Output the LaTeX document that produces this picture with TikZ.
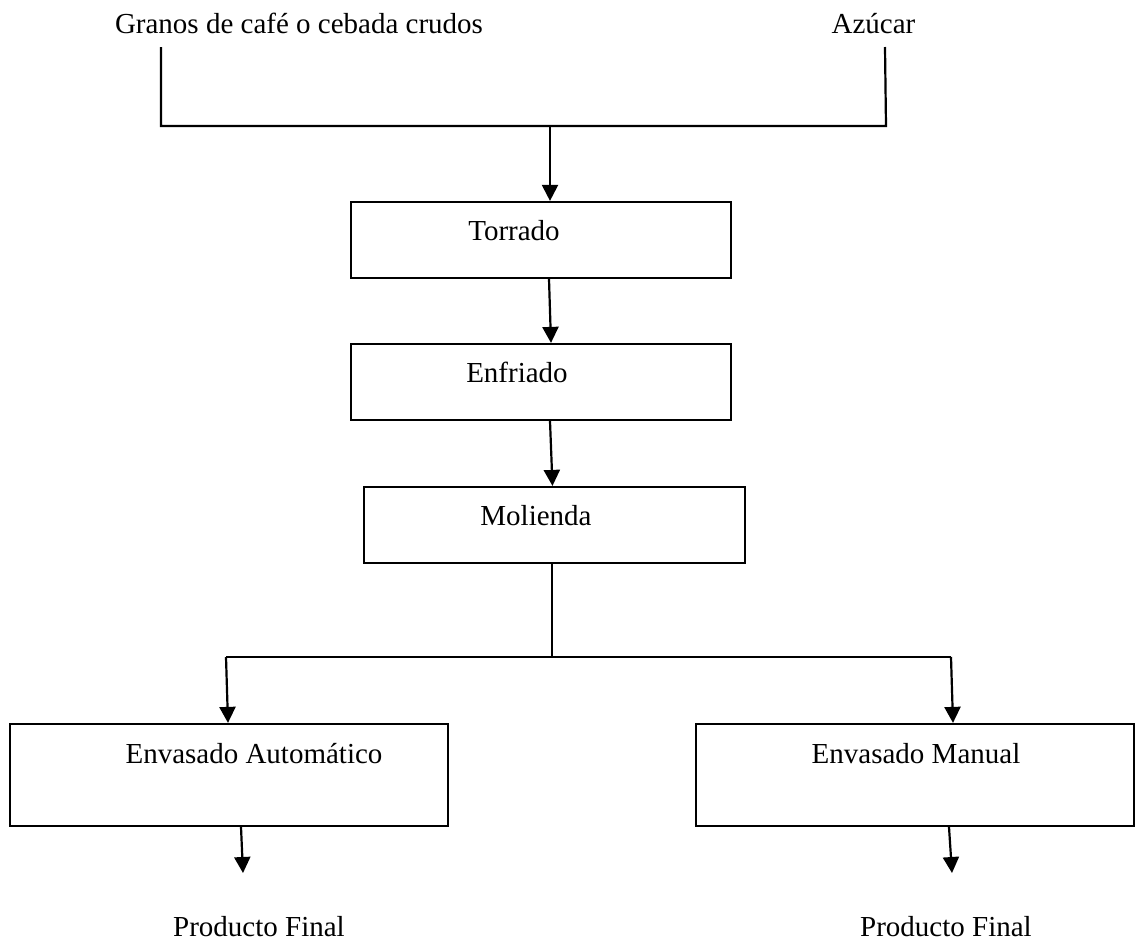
\documentclass[tikz,border=0pt]{standalone}
\usepackage{fontspec}
\setmainfont{Liberation Serif}
\usetikzlibrary{arrows.meta}
\begin{document}
\begin{tikzpicture}[x=1pt,y=-1pt,
  line width=2.2pt,
  box/.style={draw,rectangle,inner sep=0pt,line width=2.2pt},
  txt/.style={anchor=base,inner sep=0pt,font=\fontsize{29}{34}\selectfont},
  arr/.style={-{Triangle[length=16pt,width=16pt]}}]
\useasboundingbox (0,0) rectangle (1136,946);

% process boxes
\node[box,minimum width=380pt,minimum height=76pt] (torrado) at (541,240) {};
\node[box,minimum width=380pt,minimum height=76pt] (enfriado) at (541,382) {};
\node[box,minimum width=381pt,minimum height=76pt] (molienda) at (554.5,525) {};
\node[box,minimum width=438pt,minimum height=102pt] (auto) at (229,775) {};
\node[box,minimum width=438pt,minimum height=102pt] (manual) at (915,775) {};

% texts
\node[txt] (granos) at (299,33) {Granos de café o cebada crudos};
\node[txt] (azucar) at (873.5,33) {Azúcar};
\node[txt] (ttorrado) at (514,240) {Torrado};
\node[txt] (tenfriado) at (517,382) {Enfriado};
\node[txt] (tmolienda) at (536,525) {Molienda};
\node[txt] (tauto) at (254,763) {Envasado Automático};
\node[txt] (tmanual) at (916,763) {Envasado Manual};
\node[txt] (pf1) at (259,936) {Producto Final};
\node[txt] (pf2) at (946,936) {Producto Final};

% joining points
\coordinate (gtop) at (161,47);
\coordinate (gbot) at (161,126);
\coordinate (atop) at (885,47);
\coordinate (abot) at (886,126);
\coordinate (jt) at (550,126);
\coordinate (split) at (552,657);
\coordinate (sl) at (226,657);
\coordinate (sr) at (951,657);
\coordinate (end1) at (243,873);
\coordinate (end2) at (952,873);

% inputs joined into one feed
\draw (gtop) -- (gbot) -- (abot) -- (atop);
\draw[arr] (jt) -- (jt |- torrado.north);

% main line
\draw[arr] ([xshift=8pt]torrado.south) -- ([xshift=10pt]enfriado.north);
\draw[arr] ([xshift=9pt]enfriado.south) -- ([xshift=-2pt]molienda.north);
\draw ([xshift=-2.5pt]molienda.south) -- (split);
\draw (sl) -- (sr);
\draw[arr] (sl) -- ([xshift=-1pt]auto.north);
\draw[arr] (sr) -- ([xshift=38pt]manual.north);

% outputs
\draw[arr] ([xshift=12pt]auto.south) -- (end1);
\draw[arr] ([xshift=34pt]manual.south) -- (end2);
\end{tikzpicture}
\end{document}
